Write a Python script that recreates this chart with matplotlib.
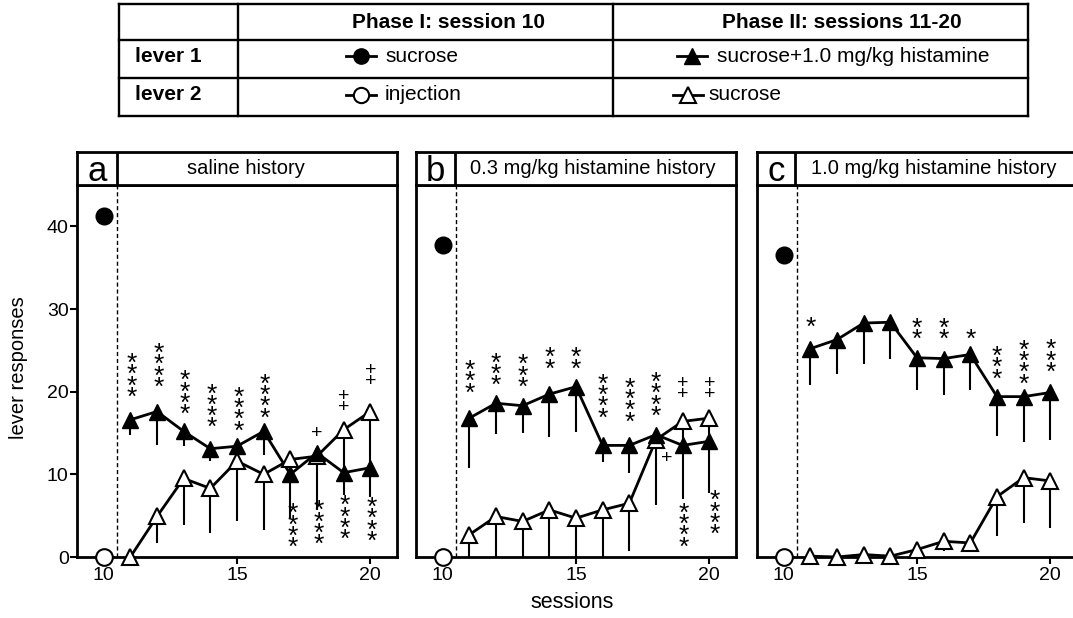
import matplotlib
matplotlib.use('Agg')
import matplotlib.pyplot as plt

plt.rcParams['font.family'] = ['Liberation Sans', 'DejaVu Sans']

W, H = 1073, 618
fig = plt.figure(figsize=(W / 100, H / 100), dpi=100)

# ---------------- data ----------------
sessions = [11, 12, 13, 14, 15, 16, 17, 18, 19, 20]
phase1_session = 10
panel_letters = ['a', 'b', 'c']
panel_titles = ['saline history', '0.3 mg/kg histamine history', '1.0 mg/kg histamine history']

sucrose_p1 = [41.2, 37.8, 36.5]
sucrose_p1_err = [0.0, 0.0, 0.8]
injection_p1 = [0.0, 0.0, 0.0]

lever1_a = [16.6, 17.6, 15.2, 13.1, 13.4, 15.2, 10.0, 12.6, 10.2, 10.8]
lever1_a_err = [1.8, 4.1, 1.8, 1.5, 1.0, 2.9, 5.3, 6.9, 2.7, 3.5]
lever2_a = [0.0, 4.9, 9.5, 8.3, 11.6, 10.0, 11.8, 12.2, 15.4, 17.6]
lever2_a_err = [0.0, 3.2, 5.6, 5.4, 7.3, 6.7, 1.5, 1.0, 5.5, 7.0]

lever1_b = [16.8, 18.6, 18.3, 19.7, 20.6, 13.5, 13.5, 14.8, 13.5, 14.0]
lever1_b_err = [6.0, 3.7, 3.3, 5.2, 5.5, 2.0, 3.3, 8.5, 6.5, 6.3]
lever2_b = [2.7, 4.9, 4.3, 5.7, 4.7, 5.7, 6.5, 14.2, 16.4, 16.8]
lever2_b_err = [2.7, 4.9, 4.3, 5.7, 4.7, 5.7, 5.8, 1.0, 2.5, 2.5]

lever1_c = [25.2, 26.3, 28.3, 28.4, 24.1, 24.0, 24.5, 19.4, 19.4, 19.9]
lever1_c_err = [4.4, 4.2, 5.0, 4.4, 3.9, 4.4, 4.3, 4.8, 5.5, 5.7]
lever2_c = [0.1, 0.0, 0.3, 0.1, 0.9, 1.9, 1.7, 7.3, 9.6, 9.2]
lever2_c_err = [0.0, 0.0, 0.0, 0.0, 0.0, 1.2, 0.0, 4.8, 5.5, 5.7]

# significance marks: (session, symbols, direction, anchor y of nearest symbol, x shift in points)
marks_a = [(11, '****', 'up', 20.3, 1), (12, '****', 'up', 21.5, 1), (13, '****', 'up', 18.2, 1),
           (14, '****', 'up', 16.6, 1), (15, '****', 'up', 16.2, 1), (16, '****', 'up', 17.8, 1),
           (17, '****', 'down', 6.1, 2), (18, '+', 'up', 15.2, 0), (18, '****', 'down', 6.5, 1),
           (19, '++', 'up', 18.4, 0), (19, '****', 'down', 7.1, 1),
           (20, '++', 'up', 21.5, 0), (20, '****', 'down', 6.9, 1)]
marks_b = [(11, '***', 'up', 20.8, 0), (12, '***', 'up', 21.7, 0), (13, '***', 'up', 21.5, 0),
           (14, '**', 'up', 23.7, 0), (15, '**', 'up', 23.7, 0), (16, '****', 'up', 17.8, 0),
           (17, '****', 'up', 17.3, 0), (18, '****', 'up', 18.0, 0), (18.4, '+', 'up', 12.2, 0),
           (19, '++', 'up', 20.0, 0), (19, '****', 'down', 6.2, 1),
           (20, '++', 'up', 20.0, 0), (20, '****', 'down', 7.7, 4)]
marks_c = [(11, '*', 'up', 28.7, 0), (15, '**', 'up', 27.3, 0), (16, '**', 'up', 27.3, 0),
           (17, '*', 'up', 27.3, 0), (18, '***', 'up', 22.5, 0), (19, '****', 'up', 21.9, 0),
           (20, '***', 'up', 23.3, 0)]

lever1_series = [lever1_a, lever1_b, lever1_c]
lever1_errs = [lever1_a_err, lever1_b_err, lever1_c_err]
lever2_series = [lever2_a, lever2_b, lever2_c]
lever2_errs = [lever2_a_err, lever2_b_err, lever2_c_err]
marks = [marks_a, marks_b, marks_c]

xticks = [10, 15, 20]
yticks = [0, 10, 20, 30, 40]

table_header = ['', 'Phase I: session 10', 'Phase II: sessions 11-20']
row_labels = ['lever 1', 'lever 2']
p1_labels = ['sucrose', 'injection']
p2_labels = ['sucrose+1.0 mg/kg histamine', 'sucrose']

# ---------------- layout helpers ----------------
def px_rect(l, t, r, b):
    return [l / W, 1 - b / H, (r - l) / W, (b - t) / H]

panel_left = [77, 416, 757]
label_box_w = [40, 39, 38]
title_cx = [169, 177, 177]   # title centre offset inside header (px from panel left)
ax_top, ax_bot, head_top = 185, 557, 152
ax_w = 320

LW = 2.0
MS = 12
STAR_FS, PLUS_FS = 19, 14

for i in range(3):
    l = panel_left[i]
    ax = fig.add_axes(px_rect(l, ax_top, l + ax_w, ax_bot))
    ax.set_xlim(9, 21)
    ax.set_ylim(0, 45)
    for s in ax.spines.values():
        s.set_linewidth(LW)
    ax.set_xticks(xticks)
    ax.tick_params(axis='x', length=5, width=1.5, labelsize=14, pad=2)
    if i == 0:
        ax.set_yticks(yticks)
        ax.tick_params(axis='y', length=5, width=1.5, labelsize=14, pad=1)
    else:
        ax.set_yticks([])
    ax.axvline(10.5, color='k', lw=1, ls=(0, (3, 2)))

    # lever 2 (open triangles)
    y2, e2 = lever2_series[i], lever2_errs[i]
    ax.errorbar(sessions, y2, yerr=[e2, [0] * len(e2)], fmt='none', ecolor='k',
                elinewidth=1.5, capsize=0, zorder=2, clip_on=False)
    ax.plot(sessions, y2, '-', color='k', lw=LW, zorder=2, clip_on=False)
    # lever 1 (filled triangles)
    y1, e1 = lever1_series[i], lever1_errs[i]
    ax.errorbar(sessions, y1, yerr=[e1, [0] * len(e1)], fmt='none', ecolor='k',
                elinewidth=1.5, capsize=0, zorder=2)
    ax.plot(sessions, y1, '-', color='k', lw=LW, zorder=2)
    ax.plot(sessions, y2, '^', ms=MS, mfc='white', mec='k', mew=1.5, zorder=3, clip_on=False)
    ax.plot(sessions, y1, '^', ms=MS, mfc='k', mec='k', mew=1.0, zorder=4)

    # phase I
    if sucrose_p1_err[i] > 0:
        ax.errorbar([phase1_session], [sucrose_p1[i]], yerr=[[sucrose_p1_err[i]], [0]],
                    fmt='none', ecolor='k', elinewidth=1.5, capsize=0)
    ax.plot([phase1_session], [sucrose_p1[i]], 'o', ms=MS, mfc='k', mec='k', zorder=4)
    ax.plot([phase1_session], [injection_p1[i]], 'o', ms=MS, mfc='white', mec='k',
            mew=1.5, zorder=5, clip_on=False)

    # significance marks (one text object per stack)
    for (x, sym, d, y0, dx) in marks[i]:
        is_star = sym[0] == '*'
        fs = STAR_FS if is_star else PLUS_FS
        step = 8.6 if is_star else 8.4
        desc = 0.21 * fs
        ls = (step - desc) / (0.73 * fs)
        glyph_c = 0.57 if is_star else 0.35
        txt = '\n'.join(sym)
        if d == 'up':
            off = -(0.21 + glyph_c) * fs
            va = 'bottom'
        else:
            off = (0.73 - glyph_c) * fs
            va = 'top'
        ax.annotate(txt, xy=(x, y0), xytext=(dx, off), textcoords='offset points',
                    ha='center', va=va, fontsize=fs, linespacing=ls, zorder=6)

    # header box
    hx = fig.add_axes(px_rect(l, head_top, l + ax_w, ax_top))
    hx.set_xticks([])
    hx.set_yticks([])
    for s in hx.spines.values():
        s.set_linewidth(LW)
    hx.set_xlim(0, ax_w)
    hx.set_ylim(0, 1)
    bw = label_box_w[i]
    hx.axvline(bw, color='k', lw=LW)
    hx.text(bw / 2, 0.42, panel_letters[i], ha='center', va='center', fontsize=25)
    hx.text(title_cx[i], 0.5, panel_titles[i], ha='center', va='center', fontsize=14.5)

fig.text(19 / W, 1 - 368 / H, 'lever responses', rotation=90, ha='center', va='center', fontsize=14.5)
fig.text(572 / W, 1 - 603 / H, 'sessions', ha='center', va='center', fontsize=15.5)

# ---------------- legend table ----------------
tx = fig.add_axes([0, 0, 1, 1])
tx.set_xlim(0, W)
tx.set_ylim(H, 0)
tx.axis('off')
tl, tr, tt, tb = 119, 1028, 4, 116
rows = [tt, 40, 78, tb]
cols = [tl, 238, 613, tr]
for y in rows:
    tx.plot([tl, tr], [y, y], color='k', lw=1.7, solid_capstyle='projecting')
for x in cols:
    tx.plot([x, x], [tt, tb], color='k', lw=1.7, solid_capstyle='projecting')
TFS = 15
tx.text(449, 22, table_header[1], ha='center', va='center', fontsize=TFS, fontweight='bold')
tx.text(842, 22, table_header[2], ha='center', va='center', fontsize=TFS, fontweight='bold')
row_y = [56, 95]
for r in range(2):
    tx.text(135, row_y[r], row_labels[r], ha='left', va='center', fontsize=TFS, fontweight='bold')
# phase I symbols
tx.plot([346, 376], [row_y[0]] * 2, color='k', lw=LW)
tx.plot([361], [row_y[0]], 'o', ms=11, mfc='k', mec='k')
tx.text(385, row_y[0], p1_labels[0], ha='left', va='center', fontsize=TFS)
tx.plot([346, 376], [row_y[1]] * 2, color='k', lw=LW)
tx.plot([361], [row_y[1]], 'o', ms=11, mfc='white', mec='k', mew=1.5)
tx.text(385, row_y[1], p1_labels[1], ha='left', va='center', fontsize=TFS)
# phase II symbols
tx.plot([677, 707], [row_y[0]] * 2, color='k', lw=LW)
tx.plot([692], [row_y[0]], '^', ms=11, mfc='k', mec='k')
tx.text(717, row_y[0], p2_labels[0], ha='left', va='center', fontsize=TFS)
tx.plot([673, 703], [row_y[1]] * 2, color='k', lw=LW)
tx.plot([688], [row_y[1]], '^', ms=11, mfc='white', mec='k', mew=1.5)
tx.text(708, row_y[1], p2_labels[1], ha='left', va='center', fontsize=TFS)

fig.savefig('out.png', dpi=100)
